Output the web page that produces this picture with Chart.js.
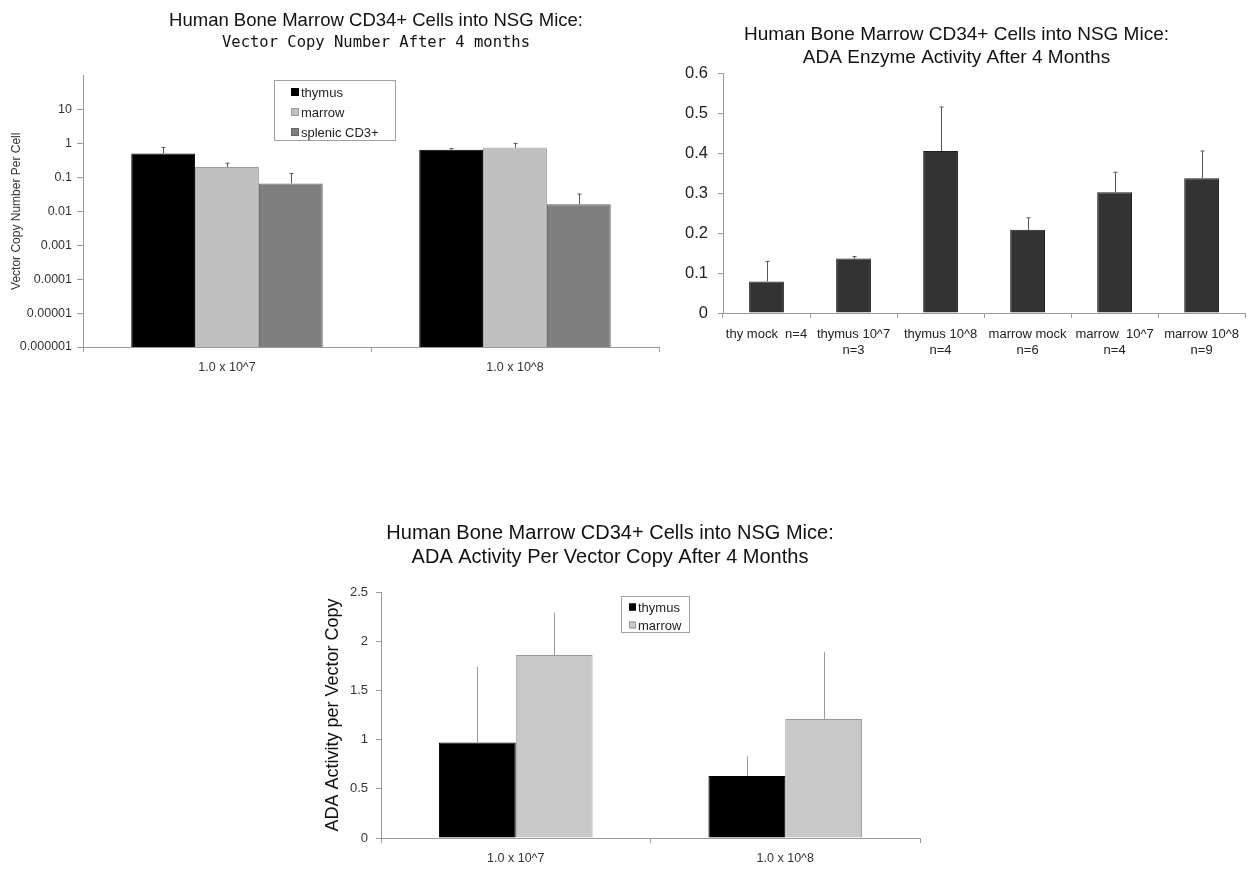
<!DOCTYPE html>
<html>
<head>
<meta charset="utf-8">
<script src="https://cdn.jsdelivr.net/npm/chart.js@4.4.1/dist/chart.umd.min.js"></script>
<style>
  body { margin:0; background:#fff; width:1248px; height:869px; overflow:hidden; position:relative; }
  .panel { position:absolute; }
</style>
</head>
<body>
<div class="panel" style="left:0;top:0;"><canvas id="vcn-chart" width="752" height="385"></canvas></div>
<div class="panel" style="left:665px;top:0;"><canvas id="ada-chart" width="583" height="375"></canvas></div>
<div class="panel" style="left:300px;top:500px;"><canvas id="percopy-chart" width="640" height="369"></canvas></div>
<script>
// --- data ---
const doseLabels = ['1.0 x 10^7', '1.0 x 10^8'];

// vector copy number (log axis)
const vcnThymus     = [0.5, 0.65];
const vcnThymusErr  = [0.26, 0.05];
const vcnMarrow     = [0.2, 0.75];
const vcnMarrowErr  = [0.06, 0.25];
const vcnSplenic    = [0.066, 0.016];
const vcnSplenicErr = [0.064, 0.016];
const vcnTickValues = [1e-6, 1e-5, 1e-4, 1e-3, 0.01, 0.1, 1, 10];
const vcnTickLabels = ['0.000001', '0.00001', '0.0001', '0.001', '0.01', '0.1', '1', '10'];

// ADA enzyme activity
const adaGroups = [['thy mock  n=4'], ['thymus 10^7', 'n=3'], ['thymus 10^8', 'n=4'],
                   ['marrow mock', 'n=6'], ['marrow  10^7', 'n=4'], ['marrow 10^8', 'n=9']];
const adaValues = [0.079, 0.136, 0.405, 0.208, 0.302, 0.337];
const adaErr    = [0.05, 0.005, 0.11, 0.03, 0.05, 0.068];
const adaTickLabels = ['0', '0.1', '0.2', '0.3', '0.4', '0.5', '0.6'];

// ADA activity per vector copy
const perCopyThymus    = [0.97, 0.63];
const perCopyThymusErr = [0.77, 0.2];
const perCopyMarrow    = [1.86, 1.21];
const perCopyMarrowErr = [0.43, 0.68];
const perCopyTickLabels = ['0', '0.5', '1', '1.5', '2', '2.5'];

Chart.defaults.font.family = '"Liberation Sans", Arial, sans-serif';
Chart.defaults.color = '#222';

// upward-only error bars, value + errUp through the y scale
const errorBars = {
  id: 'errorBars',
  afterDatasetsDraw(chart, args, opts) {
    const { ctx } = chart;
    const y = chart.scales.y;
    chart.data.datasets.forEach((ds, di) => {
      if (!ds.errUp) return;
      chart.getDatasetMeta(di).data.forEach((bar, i) => {
        const top = y.getPixelForValue(ds.data[i] + ds.errUp[i]);
        const x = Math.round(bar.x) + 0.5;
        ctx.save();
        ctx.strokeStyle = opts.color;
        ctx.lineWidth = 1;
        ctx.beginPath();
        ctx.moveTo(x, bar.y);
        ctx.lineTo(x, top);
        if (opts.cap) { ctx.moveTo(x - opts.cap, top); ctx.lineTo(x + opts.cap, top); }
        ctx.stroke();
        ctx.restore();
      });
    });
  }
};

// boxed legend sitting inside the plot
const boxLegend = {
  id: 'boxLegend',
  afterDraw(chart, args, o) {
    if (!o || !o.w) return;
    const { ctx } = chart;
    ctx.save();
    ctx.fillStyle = '#fff';
    ctx.fillRect(o.x, o.y, o.w, o.h);
    ctx.strokeStyle = '#a0a0a0';
    ctx.lineWidth = 1;
    ctx.strokeRect(o.x + 0.5, o.y + 0.5, o.w, o.h);
    ctx.font = o.font;
    ctx.textBaseline = 'middle';
    chart.data.datasets.forEach((ds, i) => {
      const cy = o.y + o.top + i * o.row;
      ctx.fillStyle = ds.backgroundColor;
      ctx.fillRect(o.sx, cy - o.sq / 2, o.sq, o.sq);
      ctx.strokeStyle = ds.borderColor;
      ctx.strokeRect(o.sx + 0.5, cy - o.sq / 2 + 0.5, o.sq - 1, o.sq - 1);
      ctx.fillStyle = '#222';
      ctx.fillText(ds.label, o.sx + o.sq + 2, cy + 1);
    });
    ctx.restore();
  }
};

const axisGrid = { display: true, drawOnChartArea: false, tickLength: 5, color: '#9a9a9a' };
const axisBorder = { display: true, color: '#9a9a9a' };

// Vector copy number; an empty right-hand scale keeps the plot narrower than the title band
new Chart(document.getElementById('vcn-chart'), {
  type: 'bar',
  data: {
    labels: doseLabels,
    datasets: [
      { label: 'thymus', data: vcnThymus, errUp: vcnThymusErr, backgroundColor: '#000', borderColor: '#000', borderWidth: 1 },
      { label: 'marrow', data: vcnMarrow, errUp: vcnMarrowErr, backgroundColor: '#bfbfbf', borderColor: '#9c9c9c', borderWidth: 1 },
      { label: 'splenic CD3+', data: vcnSplenic, errUp: vcnSplenicErr, backgroundColor: '#7f7f7f', borderColor: '#666', borderWidth: 1 },
    ]
  },
  options: {
    responsive: false, animation: false,
    layout: { padding: 0 },
    datasets: { bar: { categoryPercentage: 0.665, barPercentage: 1 } },
    plugins: {
      legend: { display: false }, tooltip: { enabled: false },
      title: { display: true, text: 'Human Bone Marrow CD34+ Cells into NSG Mice:', color: '#111',
               font: { size: 18.5, weight: 'normal' }, padding: { top: 10, bottom: 0 } },
      subtitle: { display: true, text: 'Vector Copy Number After 4 months', color: '#111',
                  font: { family: '"DejaVu Sans Mono", monospace', size: 15.5 }, padding: { top: 1, bottom: 23.7 } },
      errorBars: { color: '#555', cap: 2 },
      boxLegend: { x: 274, y: 80, w: 121, h: 60, top: 12, row: 20, sx: 291, sq: 8, font: '13px "Liberation Sans", Arial, sans-serif' },
    },
    scales: {
      x: {
        grid: axisGrid, border: axisBorder,
        ticks: { color: '#333', font: { size: 12.5 }, padding: 8 },
        afterFit: s => { s.height = 38; }
      },
      y: {
        type: 'logarithmic', min: 1e-6, max: 100,
        afterBuildTicks: s => { s.ticks = vcnTickValues.map(v => ({ value: v })); },
        grid: { ...axisGrid, tickLength: 6 }, border: axisBorder,
        ticks: { color: '#333', font: { size: 12.5 }, padding: 5, autoSkip: false, callback: (v, i) => vcnTickLabels[i] },
        title: { display: true, text: 'Vector Copy Number Per Cell', color: '#333', font: { size: 12 }, padding: { top: 9, bottom: 0 } },
        afterFit: s => { s.width = 83; }
      },
      spacer: {
        position: 'right', display: true,
        grid: { display: false }, border: { display: false }, ticks: { display: false },
        afterFit: s => { s.width = 93; }
      }
    }
  },
  plugins: [errorBars, boxLegend]
});

// ADA enzyme activity
new Chart(document.getElementById('ada-chart'), {
  type: 'bar',
  data: {
    labels: adaGroups,
    datasets: [{ label: 'ADA', data: adaValues, errUp: adaErr, backgroundColor: '#333', borderColor: '#1e1e1e', borderWidth: 1 }]
  },
  options: {
    responsive: false, animation: false,
    layout: { padding: 0 },
    datasets: { bar: { categoryPercentage: 0.4, barPercentage: 1 } },
    plugins: {
      legend: { display: false }, tooltip: { enabled: false },
      title: { display: true, text: ['Human Bone Marrow CD34+ Cells into NSG Mice:', 'ADA Enzyme Activity After 4 Months'],
               color: '#111', font: { size: 19, weight: 'normal' }, padding: { top: 23.6, bottom: 3.8 } },
      errorBars: { color: '#555', cap: 2 },
    },
    scales: {
      x: {
        grid: axisGrid, border: axisBorder,
        ticks: { color: '#222', font: { size: 13 }, padding: 9, maxRotation: 0, autoSkip: false },
        afterFit: s => { s.height = 62; }
      },
      y: {
        min: 0, max: 0.6,
        grid: axisGrid, border: axisBorder,
        ticks: { stepSize: 0.1, color: '#222', font: { size: 16.5 }, padding: 10, callback: (v, i) => adaTickLabels[i] },
        afterFit: s => { s.width = 58; }
      }
    }
  },
  plugins: [errorBars]
});

// ADA activity per vector copy
new Chart(document.getElementById('percopy-chart'), {
  type: 'bar',
  data: {
    labels: doseLabels,
    datasets: [
      { label: 'thymus', data: perCopyThymus, errUp: perCopyThymusErr, backgroundColor: '#000', borderColor: '#000', borderWidth: 1 },
      { label: 'marrow', data: perCopyMarrow, errUp: perCopyMarrowErr, backgroundColor: '#c8c8c8', borderColor: '#999', borderWidth: 1 },
    ]
  },
  options: {
    responsive: false, animation: false,
    layout: { padding: { left: 0, right: 20, top: 0, bottom: 0 } },
    datasets: { bar: { categoryPercentage: 0.57, barPercentage: 1 } },
    plugins: {
      legend: { display: false }, tooltip: { enabled: false },
      title: { display: true, text: ['Human Bone Marrow CD34+ Cells into NSG Mice:', 'ADA Activity Per Vector Copy After 4 Months'],
               color: '#111', font: { size: 20, weight: 'normal' }, padding: { top: 21, bottom: 23 } },
      errorBars: { color: '#9a9a9a', cap: 0 },
      boxLegend: { x: 321, y: 96, w: 68, h: 36, top: 11, row: 18, sx: 329, sq: 7, font: '13px "Liberation Sans", Arial, sans-serif' },
    },
    scales: {
      x: {
        grid: axisGrid, border: axisBorder,
        ticks: { color: '#333', font: { size: 12.5 }, padding: 8 },
        afterFit: s => { s.height = 31; }
      },
      y: {
        min: 0, max: 2.5,
        grid: axisGrid, border: axisBorder,
        ticks: { stepSize: 0.5, color: '#333', font: { size: 13 }, padding: 8, callback: (v, i) => perCopyTickLabels[i] },
        title: { display: true, text: 'ADA Activity per Vector Copy', color: '#111', font: { size: 18 }, padding: { top: 22, bottom: 0 } },
        afterFit: s => { s.width = 81; }
      }
    }
  },
  plugins: [errorBars, boxLegend]
});
</script>
</body>
</html>
